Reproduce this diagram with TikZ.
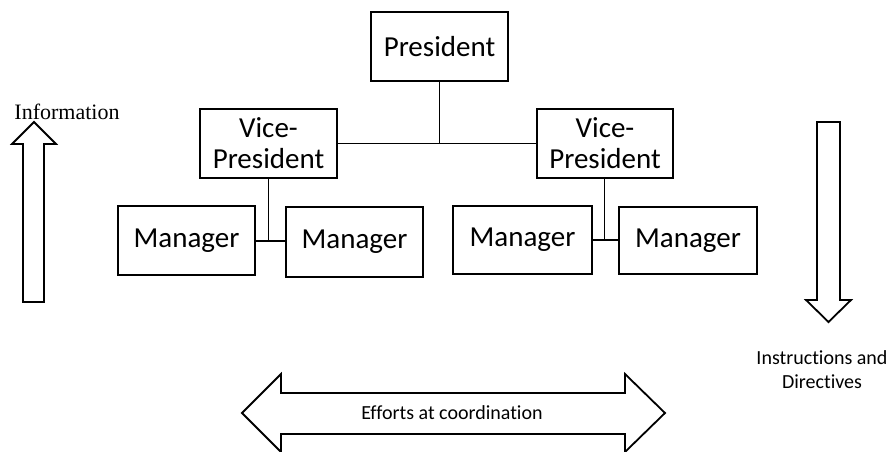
\documentclass[tikz,border=0pt]{standalone}
\usepackage{fontspec}
\setmainfont{Carlito}[RawFeature={-liga}]
\newfontfamily\serifinfo{Liberation Serif}
\begin{document}
\begin{tikzpicture}[x=1pt,y=-1pt,
  box/.style={draw,line width=1.8pt,minimum width=137pt,minimum height=69pt,inner sep=0pt,align=center,font=\fontsize{29}{31}\selectfont},
  conn/.style={line width=1.8pt},
  bigarrow/.style={draw,line width=1.8pt,line join=miter,fill=white},
  lbl/.style={inner sep=0pt,align=center,font=\fontsize{20}{24}\selectfont}]
\useasboundingbox (0,0) rectangle (892,452);
% boxes
\node[box] (pres) at (439.5,46.5) {President};
\node[box] (vpl) at (268.5,143.5) {Vice-\\President};
\node[box,minimum width=136pt] (vpr) at (605,143.5) {Vice-\\President};
\node[box] (m1) at (186.5,240.5) {Manager};
\node[box,minimum height=70pt] (m2) at (354.5,242) {Manager};
\node[box,minimum width=139pt,minimum height=68pt] (m3) at (522.5,240) {Manager};
\node[box,minimum width=138pt,minimum height=67pt] (m4) at (688,240.5) {Manager};
% connectors
\draw[conn] (vpl.east) -- (vpr.west);
\draw[conn] (pres.south) -- (pres.south |- vpl.east);
\coordinate (jl) at (268.5,241);
\coordinate (jr) at (604.5,240);
\draw[conn] (vpl.south) -- (jl);
\draw[conn] (m1.east |- jl) -- (m2.west |- jl);
\draw[conn] (vpr.south -| jr) -- (jr);
\draw[conn] (m3.east |- jr) -- (m4.west |- jr);
% information arrow
\draw[bigarrow] (34,122) -- (56,144) -- (44,144) -- (44,302) -- (23,302) -- (23,144) -- (12,144) -- cycle;
\node[inner sep=0pt,font=\serifinfo\fontsize{22}{24}\selectfont] (info) at (67,112) {Information};
% instructions arrow
\draw[bigarrow] (828.5,322) -- (851,300) -- (840,300) -- (840,122) -- (817,122) -- (817,300) -- (806,300) -- cycle;
\node[lbl] (instr) at (822,370) {Instructions and\\Directives};
% coordination arrow
\draw[bigarrow] (242,413) -- (281,374) -- (281,393) -- (625,393) -- (625,374) -- (665,413) -- (625,452) -- (625,434) -- (281,434) -- (281,452) -- cycle;
\node[lbl] (coord) at (452,413) {Efforts at coordination};
\end{tikzpicture}
\end{document}
